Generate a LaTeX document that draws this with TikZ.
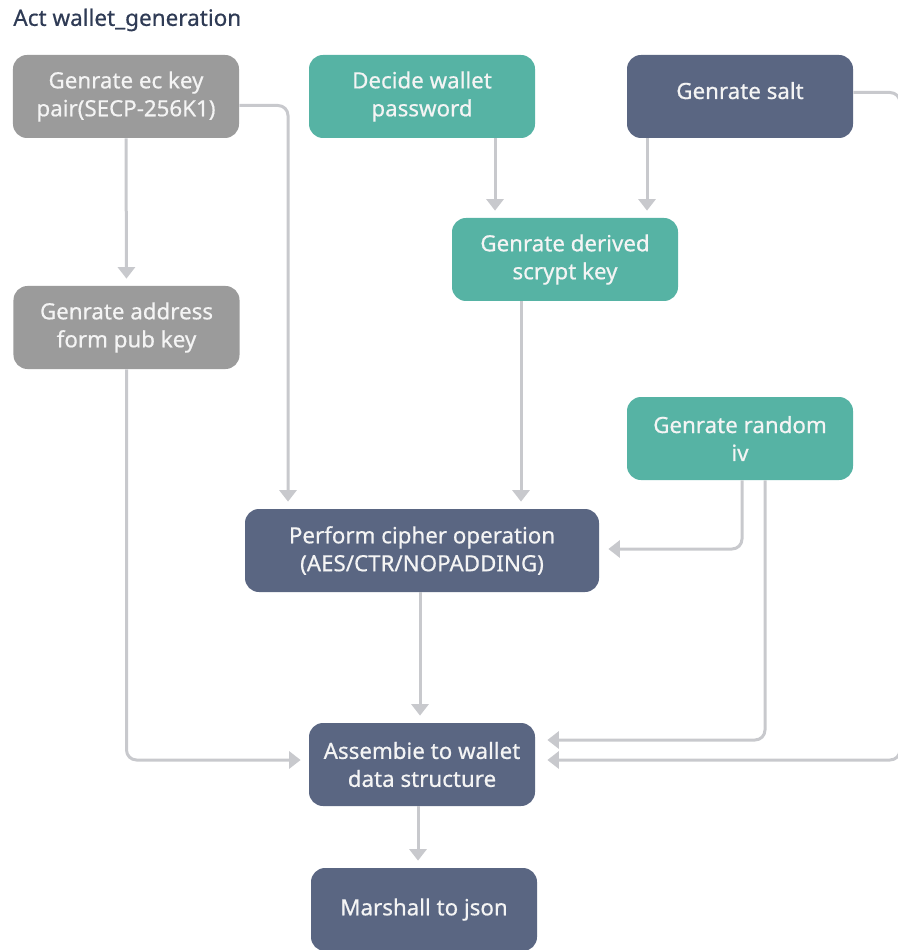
\documentclass[tikz,border=0pt]{standalone}
\usepackage{fontspec}
\setmainfont{Noto Sans}[FakeBold=0.6]
\usetikzlibrary{arrows.meta}
\definecolor{grayb}{HTML}{9B9B9B}
\definecolor{tealb}{HTML}{56B3A4}
\definecolor{darkb}{HTML}{5A6682}
\definecolor{linec}{HTML}{C8C9CD}
\definecolor{titlec}{HTML}{2F3B55}
\definecolor{txtc}{HTML}{F4F4F4}
\begin{document}
\begin{tikzpicture}[x=0.2mm,y=-0.2mm,
  box/.style={rectangle, rounded corners=2.8mm, minimum width=45.2mm, minimum height=16.6mm,
    text=txtc, align=center, font=\fontsize{12.7pt}{15.9pt}\selectfont\bfseries, inner sep=0pt},
  graybox/.style={box, fill=grayb},
  tealbox/.style={box, fill=tealb},
  darkbox/.style={box, fill=darkb},
  arr/.style={draw=linec, line width=0.6mm, rounded corners=2mm,
    -{Triangle[width=3.4mm,length=2.3mm]}, shorten >=1.4mm}]
\useasboundingbox (0,0) rectangle (897,950);
\node[anchor=west, text=titlec, font=\fontsize{12.8pt}{14pt}\selectfont\bfseries, inner sep=0pt] (title) at (13,20) {Act wallet\_generation};
\node[graybox] (B1) at (126,96.5) {Genrate ec key\\pair(SECP-256K1)};
\node[tealbox] (B2) at (422,96.5) {Decide wallet\\password};
\node[darkbox] (B3) at (740,96.5) {\raisebox{2.4mm}{Genrate salt}};
\node[tealbox] (B4) at (565,259.5) {Genrate derived\\scrypt key};
\node[graybox] (B5) at (126.5,327.5) {Genrate address\\form pub key};
\node[tealbox] (B6) at (740,438.5) {Genrate random\\iv};
\node[darkbox, minimum width=70.8mm] (B7) at (422,550.5) {Perform cipher operation\\(AES/CTR/NOPADDING)};
\node[darkbox] (B8) at (422,764.5) {Assembie to wallet\\data structure};
\node[darkbox] (B9) at (424,909.5) {\raisebox{0.4mm}{Marshall to json}};
\coordinate (saltR) at (900,92.5);
\coordinate (saltD) at (900,760);
% connectors
\draw[arr] (B1.south) -- (B5.north);
\draw[arr] ([yshift=-1.8mm]B1.east) -| ([xshift=-26.8mm]B7.north);
\draw[arr] ([xshift=14.6mm]B2.south) -- ([xshift=14.6mm]B2.south |- B4.north);
\draw[arr] ([xshift=-18.6mm]B3.south) -- ([xshift=-18.6mm]B3.south |- B4.north);
\draw[arr] ([xshift=-8.8mm]B4.south) -- ([xshift=-8.8mm]B4.south |- B7.north);
\draw[arr, shorten >=1.8mm] ([xshift=0.4mm]B6.south) |- ([yshift=0.3mm]B7.east);
\draw[arr, shorten >=2.4mm] ([xshift=5mm]B6.south) |- ([yshift=4.9mm]B8.east);
\draw[arr, shorten >=2.4mm] ([yshift=0.8mm]B3.east) -- (saltR) -- (saltD) -- ([yshift=0.9mm]B8.east);
\draw[arr] ([xshift=-0.4mm]B7.south) -- ([xshift=-0.4mm]B8.north);
\draw[arr, shorten >=1.6mm] (B5.south) |- ([yshift=0.9mm]B8.west);
\draw[arr] ([xshift=-0.8mm]B8.south) -- ([xshift=-0.8mm]B8.south |- B9.north);
\end{tikzpicture}
\end{document}
